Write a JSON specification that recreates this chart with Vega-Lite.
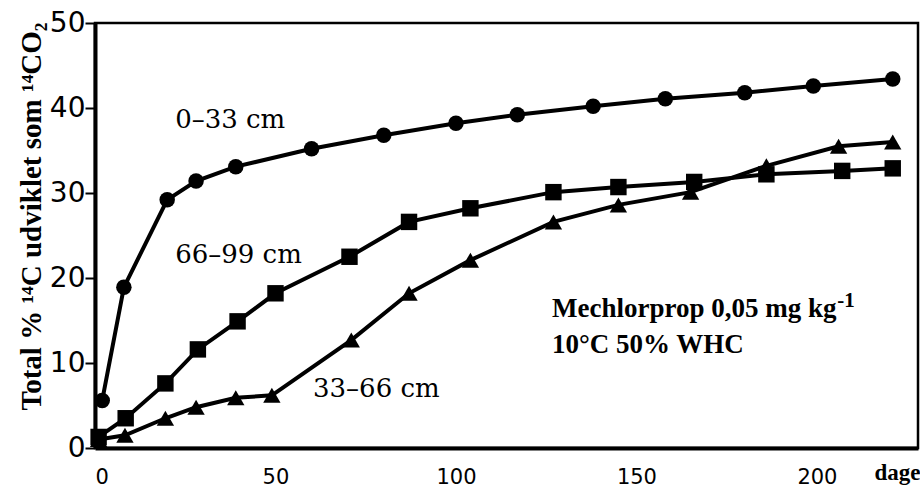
{
  "$schema": "https://vega.github.io/schema/vega-lite/v6.json",
  "autosize": "none",
  "width": 823,
  "height": 425,
  "padding": {"left": 95, "top": 23, "right": 2, "bottom": 39},
  "background": "white",
  "config": {
    "view": {"stroke": "black", "strokeWidth": 2.5},
    "axis": {"grid": false, "domainColor": "black", "tickColor": "black", "labelColor": "black", "titleColor": "black"}
  },
  "datasets": {
    "series": [
      {"profil": "0–33 cm", "dage": 2, "pct": 5.6},
      {"profil": "0–33 cm", "dage": 8, "pct": 18.9},
      {"profil": "0–33 cm", "dage": 20, "pct": 29.2},
      {"profil": "0–33 cm", "dage": 28, "pct": 31.4},
      {"profil": "0–33 cm", "dage": 39, "pct": 33.1},
      {"profil": "0–33 cm", "dage": 60, "pct": 35.2},
      {"profil": "0–33 cm", "dage": 80, "pct": 36.8},
      {"profil": "0–33 cm", "dage": 100, "pct": 38.2},
      {"profil": "0–33 cm", "dage": 117, "pct": 39.2},
      {"profil": "0–33 cm", "dage": 138, "pct": 40.2},
      {"profil": "0–33 cm", "dage": 158, "pct": 41.1},
      {"profil": "0–33 cm", "dage": 180, "pct": 41.8},
      {"profil": "0–33 cm", "dage": 199, "pct": 42.6},
      {"profil": "0–33 cm", "dage": 221, "pct": 43.4},
      {"profil": "66–99 cm", "dage": 1, "pct": 1.3},
      {"profil": "66–99 cm", "dage": 8.5, "pct": 3.5},
      {"profil": "66–99 cm", "dage": 19.5, "pct": 7.6},
      {"profil": "66–99 cm", "dage": 28.5, "pct": 11.6},
      {"profil": "66–99 cm", "dage": 39.5, "pct": 14.9},
      {"profil": "66–99 cm", "dage": 50, "pct": 18.2},
      {"profil": "66–99 cm", "dage": 70.5, "pct": 22.5},
      {"profil": "66–99 cm", "dage": 87, "pct": 26.6},
      {"profil": "66–99 cm", "dage": 104, "pct": 28.2},
      {"profil": "66–99 cm", "dage": 127, "pct": 30.1},
      {"profil": "66–99 cm", "dage": 145, "pct": 30.7},
      {"profil": "66–99 cm", "dage": 166, "pct": 31.3},
      {"profil": "66–99 cm", "dage": 186, "pct": 32.2},
      {"profil": "66–99 cm", "dage": 207, "pct": 32.6},
      {"profil": "66–99 cm", "dage": 221, "pct": 32.9},
      {"profil": "33–66 cm", "dage": 1, "pct": 1.0},
      {"profil": "33–66 cm", "dage": 8.3, "pct": 1.5},
      {"profil": "33–66 cm", "dage": 19.5, "pct": 3.5},
      {"profil": "33–66 cm", "dage": 28, "pct": 4.8},
      {"profil": "33–66 cm", "dage": 39, "pct": 5.9},
      {"profil": "33–66 cm", "dage": 49, "pct": 6.2},
      {"profil": "33–66 cm", "dage": 71, "pct": 12.7},
      {"profil": "33–66 cm", "dage": 87, "pct": 18.2},
      {"profil": "33–66 cm", "dage": 104, "pct": 22.1},
      {"profil": "33–66 cm", "dage": 127, "pct": 26.6},
      {"profil": "33–66 cm", "dage": 145, "pct": 28.6},
      {"profil": "33–66 cm", "dage": 165, "pct": 30.1},
      {"profil": "33–66 cm", "dage": 186, "pct": 33.2},
      {"profil": "33–66 cm", "dage": 206, "pct": 35.5},
      {"profil": "33–66 cm", "dage": 221, "pct": 36.0}
    ],
    "profilLabels": [
      {"dage": 22.2, "pct": 38.6, "tekst": "0–33  cm"},
      {"dage": 22.2, "pct": 22.7, "tekst": "66–99  cm"},
      {"dage": 60.4, "pct": 7.0, "tekst": "33–66  cm"}
    ],
    "note": [
      {"dage": 126.6, "pct": 15.4, "tekst": "Mechlorprop 0,05 mg kg"},
      {"dage": 126.6, "pct": 11.2, "tekst": "10°C 50% WHC"}
    ],
    "noteSup": [
      {"dage": 205.6, "pct": 16.6, "tekst": "-1"}
    ]
  },
  "encoding": {
    "x": {
      "field": "dage", "type": "quantitative",
      "scale": {"domain": [0, 228], "nice": false, "zero": false},
      "axis": {
        "values": [0, 50, 100, 150, 200],
        "domainWidth": 4,
        "ticks": false,
        "labelPadding": 18,
        "labelFont": "DejaVu Sans", "labelFontSize": 21, "labelFontWeight": "normal",
        "title": "dage",
        "titleFont": "Liberation Serif", "titleFontSize": 23, "titleFontWeight": "bold",
        "titleX": 802, "titleY": 31, "titleAlign": "center", "titleBaseline": "alphabetic"
      }
    },
    "y": {
      "field": "pct", "type": "quantitative",
      "scale": {"domain": [0, 50], "nice": false},
      "axis": {
        "values": [0, 10, 20, 30, 40, 50],
        "domainWidth": 4,
        "tickSize": 10, "tickWidth": 2,
        "labelPadding": 0,
        "labelFont": "DejaVu Sans", "labelFontSize": 28,
        "title": "Total % ¹⁴C udviklet som ¹⁴CO₂",
        "titleFont": "Liberation Serif", "titleFontSize": 29, "titleFontWeight": "bold",
        "titleX": -64, "titleY": 193, "titleAlign": "center", "titleBaseline": "middle", "titleAngle": -90
      }
    }
  },
  "layer": [
    {
      "data": {"name": "series"},
      "mark": {"type": "line", "color": "black", "strokeWidth": 4},
      "encoding": {"detail": {"field": "profil"}}
    },
    {
      "data": {"name": "series"},
      "mark": {"type": "point", "filled": true, "color": "black", "opacity": 1},
      "encoding": {
        "shape": {
          "field": "profil", "type": "nominal",
          "scale": {"domain": ["0–33 cm", "66–99 cm", "33–66 cm"], "range": ["circle", "square", "triangle-up"]},
          "legend": null
        },
        "size": {
          "field": "profil", "type": "nominal",
          "scale": {"domain": ["0–33 cm", "66–99 cm", "33–66 cm"], "range": [240, 300, 320]},
          "legend": null
        }
      }
    },
    {
      "data": {"name": "profilLabels"},
      "mark": {"type": "text", "align": "left", "baseline": "middle", "font": "DejaVu Serif", "fontSize": 26, "color": "black"},
      "encoding": {"text": {"field": "tekst"}}
    },
    {
      "data": {"name": "note"},
      "mark": {"type": "text", "align": "left", "baseline": "alphabetic", "font": "Liberation Serif", "fontSize": 27, "fontWeight": "bold", "color": "black"},
      "encoding": {"text": {"field": "tekst"}}
    },
    {
      "data": {"name": "noteSup"},
      "mark": {"type": "text", "align": "left", "baseline": "alphabetic", "font": "Liberation Serif", "fontSize": 21, "fontWeight": "bold", "color": "black"},
      "encoding": {"text": {"field": "tekst"}}
    }
  ]
}
